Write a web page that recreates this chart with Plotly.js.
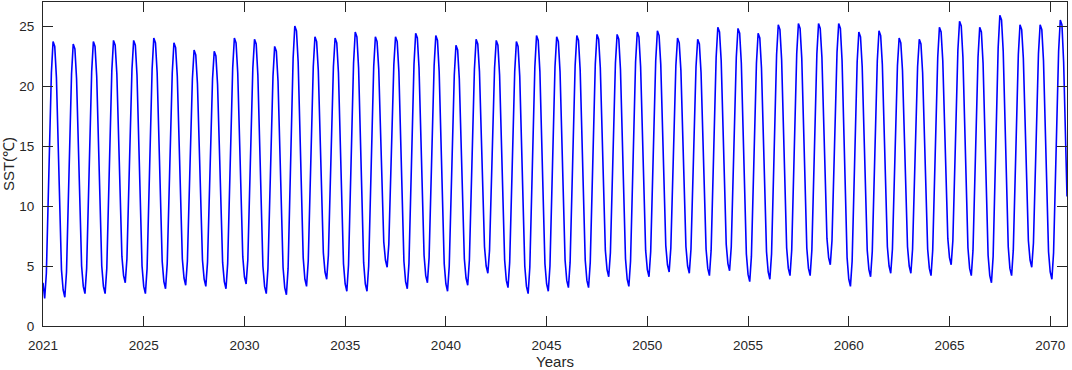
<!DOCTYPE html>
<html>
<head>
<meta charset="utf-8">
<script src="https://cdn.plot.ly/plotly-3.0.1.min.js"></script>
<style>html,body{margin:0;padding:0;background:#fff;}#chart{width:1072px;height:370px;}</style>
</head>
<body>
<div id="chart"></div>
<script>
// Monthly SST values (one row per year, starting at the first month of 2021)
const sstMonthly = [
3.6,2.3,4.4,9.8,15.8,21.1,23.7,23.3,20.7,15.2,9.2,4.7,
3.0,2.4,4.5,9.8,15.7,21.0,23.5,23.1,20.6,15.2,9.4,5.0,
3.3,2.7,4.8,10.1,15.9,21.2,23.7,23.3,20.8,15.3,9.4,5.0,
3.3,2.7,4.8,10.1,16.0,21.3,23.8,23.4,21.0,15.7,10.1,5.8,
4.2,3.6,5.6,10.7,16.3,21.4,23.8,23.4,20.9,15.4,9.5,5.0,
3.3,2.7,4.8,10.2,16.1,21.4,24.0,23.6,21.1,15.6,9.8,5.4,
3.7,3.1,5.2,10.3,16.0,21.1,23.6,23.2,20.8,15.5,9.9,5.6,
4.0,3.4,5.4,10.3,15.8,20.6,23.0,22.6,20.2,15.1,9.6,5.5,
3.9,3.3,5.3,10.2,15.7,20.6,22.9,22.5,20.1,15.0,9.4,5.3,
3.7,3.1,5.2,10.4,16.3,21.5,24.0,23.6,21.1,15.8,10.1,5.8,
4.1,3.5,5.5,10.6,16.4,21.5,23.9,23.5,20.9,15.4,9.5,5.0,
3.3,2.7,4.8,9.9,15.7,20.8,23.3,22.9,20.4,15.0,9.2,4.9,
3.2,2.6,4.8,10.4,16.7,22.3,25.0,24.6,22.0,16.3,10.2,5.7,
3.9,3.3,5.4,10.6,16.4,21.6,24.1,23.7,21.3,16.0,10.4,6.1,
4.5,3.9,5.9,10.9,16.6,21.6,24.0,23.6,21.1,15.6,9.7,5.2,
3.5,2.9,5.1,10.5,16.5,21.9,24.5,24.1,21.5,15.9,9.8,5.3,
3.5,2.9,5.0,10.3,16.3,21.6,24.1,23.7,21.4,16.4,11.0,7.0,
5.5,4.9,6.8,11.6,17.0,21.8,24.1,23.7,21.2,15.7,9.8,5.4,
3.7,3.1,5.2,10.6,16.5,21.8,24.4,24.0,21.5,16.1,10.3,5.9,
4.2,3.6,5.7,10.8,16.6,21.7,24.2,23.8,21.2,15.7,9.7,5.2,
3.5,2.9,5.0,10.1,15.8,20.9,23.4,23.0,20.6,15.4,9.8,5.6,
4.0,3.4,5.5,10.6,16.3,21.4,23.9,23.5,21.2,16.1,10.6,6.6,
5.0,4.4,6.3,11.2,16.6,21.5,23.8,23.4,20.9,15.6,9.8,5.5,
3.8,3.2,5.3,10.4,16.1,21.2,23.7,23.3,20.8,15.3,9.4,5.0,
3.3,2.7,4.9,10.2,16.3,21.6,24.2,23.8,21.2,15.7,9.7,5.2,
3.5,2.9,5.0,10.3,16.3,21.6,24.1,23.7,21.2,15.7,9.9,5.5,
3.8,3.2,5.3,10.6,16.4,21.7,24.2,23.8,21.3,15.8,9.9,5.5,
3.8,3.2,5.3,10.6,16.5,21.8,24.3,23.9,21.5,16.2,10.6,6.3,
4.7,4.1,6.1,11.2,16.8,21.9,24.3,23.9,21.4,15.9,10.0,5.6,
3.9,3.3,5.4,10.7,16.7,22.0,24.5,24.1,21.6,16.3,10.6,6.3,
4.7,4.1,6.2,11.3,17.0,22.1,24.6,24.2,21.8,16.6,10.9,6.7,
5.1,4.5,6.5,11.3,16.8,21.7,24.0,23.6,21.3,16.2,10.7,6.6,
5.0,4.4,6.4,11.2,16.7,21.6,23.9,23.5,21.1,16.0,10.5,6.4,
4.8,4.2,6.3,11.5,17.2,22.4,24.9,24.5,22.1,16.8,11.1,6.8,
5.2,4.6,6.6,11.7,17.3,22.4,24.8,24.4,21.9,16.4,10.5,6.0,
4.3,3.7,5.8,11.0,16.7,21.9,24.4,24.0,21.5,16.2,10.5,6.2,
4.5,3.9,6.0,11.3,17.3,22.6,25.1,24.7,22.2,16.7,10.9,6.5,
4.8,4.2,6.3,11.6,17.4,22.7,25.2,24.8,22.3,16.8,10.9,6.5,
4.8,4.2,6.3,11.6,17.4,22.7,25.2,24.8,22.4,17.2,11.5,7.3,
5.7,5.1,7.1,12.1,17.8,22.8,25.2,24.8,22.1,16.4,10.3,5.7,
3.9,3.3,5.4,10.7,16.7,22.0,24.5,24.1,21.6,16.3,10.6,6.3,
4.7,4.1,6.2,11.3,17.0,22.1,24.6,24.2,21.8,16.5,10.9,6.6,
5.0,4.4,6.4,11.3,16.8,21.7,24.0,23.6,21.3,16.2,10.7,6.6,
5.0,4.4,6.4,11.2,16.7,21.6,23.9,23.5,21.1,16.0,10.5,6.4,
4.8,4.2,6.3,11.5,17.2,22.4,24.9,24.5,22.1,17.0,11.4,7.3,
5.7,5.1,7.1,12.2,17.9,23.0,25.4,25.0,22.4,16.9,11.0,6.5,
4.8,4.2,6.3,11.5,17.2,22.4,24.9,24.5,21.9,16.4,10.4,5.9,
4.2,3.6,5.8,11.4,17.7,23.2,25.9,25.5,22.9,17.2,11.1,6.6,
4.8,4.2,6.3,11.5,17.4,22.6,25.1,24.7,22.3,17.0,11.4,7.1,
5.5,4.9,6.9,12.0,17.6,22.7,25.1,24.7,22.1,16.6,10.7,6.2,
4.5,3.9,6.1,11.5,17.5,22.9,25.5,25.1,22.0,16.7,10.8
];

// Tick labels along the month axis (one every 60 months)
const yearTickLabels = ['2021','2025','2030','2035','2040','2045','2050','2055','2060','2065','2070'];
const monthsPerTick = 60;
const sstTicks = [0, 5, 10, 15, 20, 25];

const monthIndex = sstMonthly.map((_, i) => i);
const tickVals = yearTickLabels.map((_, i) => i * monthsPerTick);

const axisColor = '#262626';
const fontFam = '"Liberation Sans", Arial, Helvetica, sans-serif';

const trace = {
  x: monthIndex,
  y: sstMonthly,
  type: 'scatter',
  mode: 'lines',
  line: {color: '#0000ff', width: 1.6},
  hoverinfo: 'skip'
};

const layout = {
  width: 1072,
  height: 370,
  margin: {l: 43, r: 5, t: 2, b: 44, pad: 0},
  paper_bgcolor: '#ffffff',
  plot_bgcolor: '#ffffff',
  showlegend: false,
  font: {family: fontFam, size: 14, color: axisColor},
  xaxis: {
    range: [0, monthIndex.length - 1],
    tickmode: 'array',
    tickvals: tickVals,
    ticktext: yearTickLabels,
    ticks: 'inside',
    ticklen: 10,
    tickwidth: 1,
    tickcolor: axisColor,
    mirror: 'allticks',
    showline: true,
    linecolor: axisColor,
    linewidth: 1,
    showgrid: false,
    zeroline: false,
    ticklabelstandoff: 7,
    tickfont: {family: fontFam, size: 13.5, color: axisColor},
    title: {text: 'Years', font: {family: fontFam, size: 15, color: axisColor}, standoff: 2}
  },
  yaxis: {
    range: [0, 27],
    tickmode: 'array',
    tickvals: sstTicks,
    ticktext: sstTicks.map(String),
    ticks: 'inside',
    ticklen: 10,
    tickwidth: 1,
    tickcolor: axisColor,
    mirror: 'allticks',
    showline: true,
    linecolor: axisColor,
    linewidth: 1,
    showgrid: false,
    zeroline: false,
    ticklabelstandoff: 5,
    tickfont: {family: fontFam, size: 13.5, color: axisColor},
    title: {text: 'SST(℃)', font: {family: fontFam, size: 15, color: axisColor}, standoff: 4}
  }
};

Plotly.newPlot('chart', [trace], layout, {staticPlot: true, displayModeBar: false});
</script>
</body>
</html>
